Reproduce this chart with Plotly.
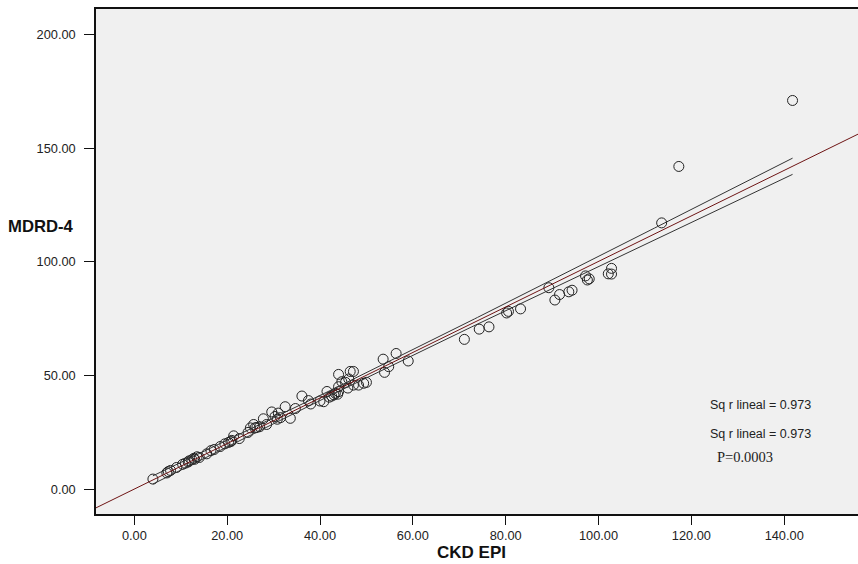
import numpy as np
import plotly.graph_objects as go

# CKD EPI (x) vs MDRD-4 (y)
ckd_epi = [4.0, 7.0, 7.3, 7.8, 9.1, 10.4, 11.0, 11.6, 11.8, 12.4, 12.8, 13.0, 13.5, 14.0,
           15.6, 16.5, 17.2, 18.5, 19.5, 20.3, 20.8, 21.0, 21.4, 22.6, 24.5, 25.0, 25.7,
           26.0, 26.4, 27.0, 27.8, 28.5, 29.6, 30.3, 30.8, 31.0, 31.5, 32.5, 33.6, 34.7,
           36.1, 37.5, 38.0, 40.0, 40.8, 41.5, 42.0, 42.5, 43.0, 43.3, 43.8, 44.0, 44.0,
           44.0, 44.7, 45.5, 46.0, 46.2, 46.5, 47.2, 47.2, 48.3, 49.4, 50.0, 53.6, 53.9,
           54.8, 56.4, 59.0, 71.1, 74.3, 76.4, 80.2, 80.6, 83.2, 89.3, 90.6, 91.6, 93.6,
           94.3, 97.2, 97.6, 98.0, 102.1, 102.8, 102.8, 113.6, 117.3, 141.8]
mdrd_4 = [4.5, 7.2, 7.8, 8.3, 9.6, 11.0, 11.5, 12.0, 12.5, 13.0, 13.6, 13.2, 14.3, 14.0,
          15.6, 17.0, 17.5, 18.8, 20.0, 20.6, 21.0, 21.5, 23.5, 22.3, 25.0, 27.0, 28.5,
          27.0, 27.2, 27.5, 31.0, 28.5, 34.0, 32.0, 30.8, 33.5, 31.5, 36.3, 31.2, 35.5,
          41.0, 39.0, 37.5, 38.8, 38.5, 43.0, 40.5, 41.0, 41.5, 42.2, 41.8, 42.9, 50.5,
          45.1, 47.3, 47.0, 44.5, 48.5, 51.8, 51.8, 45.8, 45.8, 46.6, 47.0, 57.2, 51.4,
          53.9, 59.7, 56.4, 65.9, 70.4, 71.4, 77.5, 78.2, 79.3, 88.6, 83.2, 85.6, 86.8,
          87.5, 93.8, 92.0, 92.5, 94.7, 97.1, 94.6, 117.1, 141.9, 170.9]

x_ticks = [0, 20, 40, 60, 80, 100, 120, 140]
y_ticks = [0, 50, 100, 150, 200]
x_range = [-8.26, 155.9]
y_range = [-10.85, 211.1]
stat_labels = ["Sq r lineal = 0.973", "Sq r lineal = 0.973"]
p_label = "P=0.0003"

x = np.array(ckd_epi)
y = np.array(mdrd_4)
n = len(x)
b, a = np.polyfit(x, y, 1)
resid = y - (a + b * x)
s = np.sqrt(np.sum(resid ** 2) / (n - 2))
sxx = np.sum((x - x.mean()) ** 2)
t = 1.99
xg = np.linspace(x.min(), x.max(), 200)
yg = a + b * xg
half = t * s * np.sqrt(1.0 / n + (xg - x.mean()) ** 2 / sxx)

font = "Liberation Sans, Arial, sans-serif"
fig = go.Figure()
fig.add_trace(go.Scatter(x=x, y=y, mode="markers",
                         marker=dict(symbol="circle-open", size=10, color="#222222",
                                     line=dict(width=1, color="#222222")),
                         showlegend=False, hoverinfo="x+y"))
fig.add_trace(go.Scatter(x=xg, y=yg + half, mode="lines",
                         line=dict(color="#333333", width=1), showlegend=False))
fig.add_trace(go.Scatter(x=xg, y=yg - half, mode="lines",
                         line=dict(color="#333333", width=1), showlegend=False))
xl = np.array(x_range)
fig.add_trace(go.Scatter(x=xl, y=a + b * xl, mode="lines",
                         line=dict(color="#6e1414", width=1), showlegend=False))

fig.update_layout(
    width=858, height=564,
    margin=dict(l=96, r=0, t=9, b=50, autoexpand=False),
    paper_bgcolor="white", plot_bgcolor="#f0f0f0",
    font=dict(family=font, size=12.8, color="#222222"),
    xaxis=dict(range=x_range, tickvals=x_ticks, automargin=False,
               ticktext=[f"{v:.2f}" for v in x_ticks],
               showgrid=False, zeroline=False, showline=True, linecolor="#111111",
               linewidth=1.5, mirror=True, ticks="outside", ticklen=9,
               tickcolor="#111111", tickfont=dict(size=12.8, family=font)),
    yaxis=dict(range=y_range, tickvals=y_ticks, automargin=False,
               ticktext=[f"{v:.2f}" for v in y_ticks],
               showgrid=False, zeroline=False, showline=True, linecolor="#111111",
               linewidth=1.5, ticks="outside", ticklen=10, tickcolor="#111111",
               tickfont=dict(size=12.8, family=font), ticklabelstandoff=6),
    annotations=[
        dict(text="<b>MDRD-4</b>", xref="paper", yref="y", x=-0.0262, y=115.4,
             xanchor="right", yanchor="middle", showarrow=False,
             font=dict(size=16.7, family=font, color="#111111")),
        dict(text="<b>CKD EPI</b>", xref="paper", yref="paper", x=0.493, y=-0.0772,
             xanchor="center", yanchor="middle", showarrow=False,
             font=dict(size=17, family=font, color="#111111")),
        dict(text=stat_labels[0], xref="paper", yref="paper", x=0.803, y=0.2158,
             xanchor="left", yanchor="middle", showarrow=False,
             font=dict(size=12.5, family=font, color="#222222")),
        dict(text=stat_labels[1], xref="paper", yref="paper", x=0.803, y=0.1578,
             xanchor="left", yanchor="middle", showarrow=False,
             font=dict(size=12.5, family=font, color="#222222")),
        dict(text=p_label, xref="paper", yref="paper", x=0.8123, y=0.1135,
             xanchor="left", yanchor="middle", showarrow=False,
             font=dict(size=14.5, family="Liberation Serif, Times New Roman, serif",
                       color="#222222")),
    ],
)
fig.write_html("out.html", config={"displayModeBar": False},
               post_script="document.body.style.margin='0';"
                           "document.body.style.overflow='hidden';")
